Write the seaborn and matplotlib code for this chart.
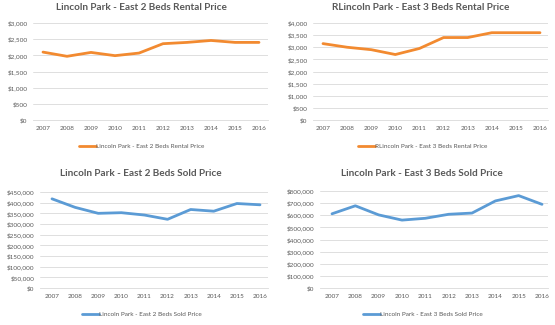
import matplotlib
matplotlib.use("Agg")
import matplotlib.pyplot as plt
import matplotlib.ticker as mticker
import seaborn as sns
import pandas as pd

years = ["2007", "2008", "2009", "2010", "2011", "2012", "2013", "2014", "2015", "2016"]
rent_2bed = [2100, 1970, 2090, 1990, 2070, 2360, 2400, 2460, 2400, 2400]
rent_3bed = [3150, 3000, 2900, 2700, 2950, 3400, 3400, 3600, 3600, 3600]
sold_2bed = [418000, 378000, 350000, 353000, 342000, 322000, 368000, 360000, 396000, 390000]
sold_3bed = [612000, 678000, 603000, 560000, 575000, 608000, 618000, 718000, 762000, 690000]

titles = ["Lincoln Park - East 2 Beds Rental Price",
          "RLincoln Park - East 3 Beds Rental Price",
          "Lincoln Park - East 2 Beds Sold Price",
          "Lincoln Park - East 3 Beds Sold Price"]
series_names = ["Lincoln Park - East 2 Beds Rental Price",
                "RLincoln Park - East 3 Beds Rental Price",
                "Lincoln Park - East 2 Beds Sold Price",
                "Lincoln Park - East 3 Beds Sold Price"]

sns.set_theme(style="white")
plt.rcParams['font.family'] = ['Lato', 'DejaVu Sans']

W, H = 555, 325
fig = plt.figure(figsize=(W / 100, H / 100), dpi=100)

ORANGE = "#F28A30"
BLUE = "#5B9BD5"
TXT = "#595959"
GRID = "#D9D9D9"

# (left, right, top, bottom, x of first point, x of last point) in pixels
panels = [
    dict(vals=rent_2bed, ymax=3000, step=500, color=ORANGE, box=(33, 268, 23, 120), p=(43, 259),
         title_xy=(141, 7), leg_xy=(142, 146)),
    dict(vals=rent_3bed, ymax=4000, step=500, color=ORANGE, box=(313, 548, 23, 120), p=(323, 540),
         title_xy=(421, 7), leg_xy=(423, 146)),
    dict(vals=sold_2bed, ymax=450000, step=50000, color=BLUE, box=(40, 268, 192, 288), p=(52, 260),
         title_xy=(141, 174), leg_xy=(142, 314)),
    dict(vals=sold_3bed, ymax=800000, step=100000, color=BLUE, box=(320, 548, 191, 288), p=(332, 542),
         title_xy=(422, 174), leg_xy=(423, 314)),
]

for i, pn in enumerate(panels):
    L, R, T, B = pn["box"]
    ax = fig.add_axes([L / W, 1 - B / H, (R - L) / W, (B - T) / H])
    df = pd.DataFrame({"idx": range(len(years)), "value": pn["vals"]})
    sns.lineplot(data=df, x="idx", y="value", ax=ax, color=pn["color"], linewidth=2.0,
                 label=series_names[i], legend=False)
    p0, p9 = pn["p"]
    s = (p9 - p0) / 9
    ax.set_xlim(-(p0 - L) / s, 9 + (R - p9) / s)
    ax.set_ylim(0, pn["ymax"])
    ax.yaxis.set_major_locator(mticker.MultipleLocator(pn["step"]))
    ax.yaxis.set_major_formatter(mticker.FuncFormatter(lambda v, _: "${:,.0f}".format(v)))
    ax.set_xticks(range(len(years)))
    ax.set_xticklabels(years)
    ax.set_xlabel("")
    ax.set_ylabel("")
    ax.grid(axis="y", color=GRID, linewidth=0.6)
    ax.set_axisbelow(True)
    for sp in ["top", "right", "left"]:
        ax.spines[sp].set_visible(False)
    ax.spines["bottom"].set_color(GRID)
    ax.spines["bottom"].set_linewidth(0.6)
    ax.tick_params(axis="both", length=0, labelsize=4.6, colors=TXT, pad=4)
    fig.text(pn["title_xy"][0] / W, 1 - pn["title_xy"][1] / H, titles[i], ha="center", va="center",
             fontsize=7.2, fontweight="bold", color=TXT)
    h, l = ax.get_legend_handles_labels()
    ax.legend(h, l, loc="center", bbox_to_anchor=(pn["leg_xy"][0] / W, 1 - pn["leg_xy"][1] / H),
              bbox_transform=fig.transFigure, frameon=False, fontsize=4.6, labelcolor=TXT,
              handlelength=2.6, handletextpad=0.1, borderpad=0)

fig.savefig("out.png", dpi=100, facecolor="white")
